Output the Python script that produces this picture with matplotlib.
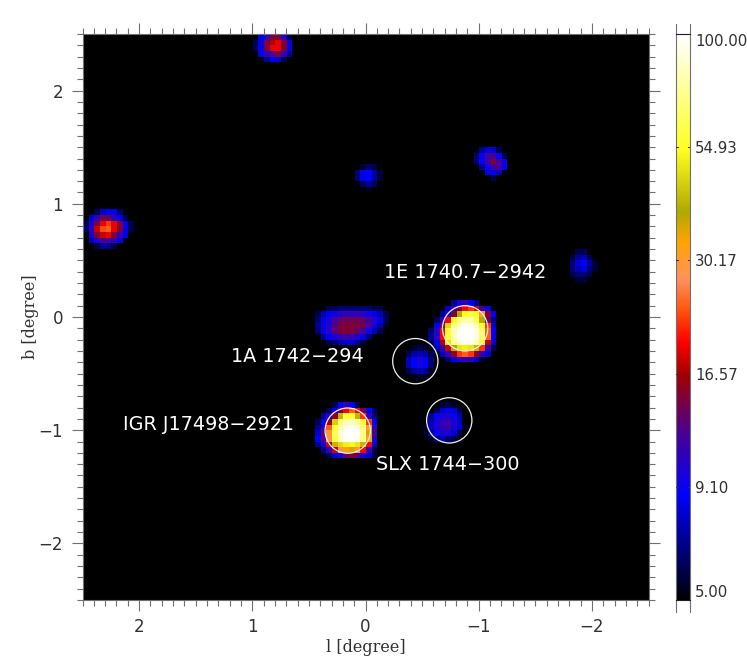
import matplotlib
matplotlib.use('Agg')
import matplotlib.pyplot as plt
from matplotlib.colors import LinearSegmentedColormap, LogNorm
from matplotlib.patches import Circle
from matplotlib.ticker import FixedLocator, NullLocator
import numpy as np

# map is 100x100 cells of 0.05 deg, each source is a list of (row, first col, values)
src_top = [
    (0, 31, [8.5, 11, 15, 15, 10, 6]),
    (1, 30, [6, 8.5, 15, 17, 19, 15, 8.5]),
    (2, 30, [6, 8.5, 15, 19, 19, 15, 8.5]),
    (3, 31, [8.5, 11, 12, 15, 11, 7]),
    (4, 32, [7, 8.5, 8, 6]),
]
src_left = [
    (31, 2, [6, 8, 8.5, 8.5, 6.5]),
    (32, 1, [8, 11, 14, 14, 11, 8.5, 6]),
    (33, 0, [6, 10, 15, 19, 22, 19, 15, 8.5, 6]),
    (34, 0, [6.5, 11, 18, 23, 24, 19, 15, 8.5, 6]),
    (35, 1, [10, 15, 18, 19, 15, 11, 8.5]),
    (36, 1, [7.5, 10, 12, 12, 11, 8.5]),
    (37, 2, [6, 7, 7, 6]),
]
src_ne = [
    (20, 70, [7, 8, 8, 6]),
    (21, 69, [6.5, 9, 12, 12, 9, 6]),
    (22, 69, [6.5, 9, 12, 15, 12, 9]),
    (23, 70, [7, 9.5, 12, 12, 9]),
    (24, 71, [8.5, 8.5, 7.5]),
    (25, 72, [6]),
]
src_right = [
    (38, 87, [6, 6]),
    (39, 86, [5.7, 7, 7.5, 6]),
    (40, 86, [6.5, 8, 8.8, 7, 5.7]),
    (41, 86, [6.5, 7.5, 8, 6.5, 5.7]),
    (42, 86, [6, 6.5, 6.5, 6]),
    (43, 87, [5.7, 5.7]),
]
src_mid = [
    (23, 49, [5.7, 6.5, 6]),
    (24, 48, [6.5, 8.6, 8.8, 7, 5.8]),
    (25, 48, [6.5, 8.6, 8.8, 7, 5.8]),
    (26, 49, [6.2, 6.8, 6.2]),
    (27, 50, [5.4]),
]
src_gc = [
    (48, 43, [6, 6, 6.5, 6.5, 6.5, 6.5, 6.5, 6.5, 6, 6]),
    (49, 41, [6, 7.5, 8.5, 9.5, 10.5, 11, 11, 11, 10.5, 9.5, 8.5, 7.5, 6]),
    (50, 41, [6.5, 8.5, 10, 12, 13.5, 14, 14, 14, 13.5, 12, 10.5, 8.5, 6]),
    (51, 41, [7, 8.5, 10.5, 13, 14.5, 15, 15, 14.5, 14, 12, 9.5, 7.5, 5.5]),
    (52, 41, [6.5, 8.5, 10.5, 13, 14.5, 15, 14.5, 13.5, 12, 9.5, 7.5, 6]),
    (53, 42, [7, 8.5, 10, 11, 11.5, 11, 10, 8.5, 6.5]),
    (54, 43, [6, 6.5, 7.5, 8, 8, 7, 5.7]),
]
src_1e = [
    (47, 65, [7, 10, 11, 9, 7]),
    (48, 64, [8, 11, 15, 20, 22, 18, 12, 9]),
    (49, 63, [7, 10, 15, 40, 55, 60, 55, 30, 15, 9]),
    (50, 62, [6, 10, 20, 55, 72, 80, 78, 62, 40, 14, 7]),
    (51, 62, [9, 15, 48, 72, 88, 96, 94, 82, 56, 22, 8]),
    (52, 61, [6.5, 10.5, 20, 58, 82, 98, 100, 100, 92, 68, 24, 9]),
    (53, 61, [7, 10.5, 20, 58, 82, 98, 100, 100, 92, 68, 24, 9]),
    (54, 61, [6, 9, 17, 50, 74, 90, 98, 96, 84, 55, 18, 8]),
    (55, 62, [7.5, 11, 18, 40, 50, 52, 50, 42, 22, 11, 6]),
    (56, 62, [5.5, 7.5, 11, 16, 22, 24, 22, 16, 11, 8]),
    (57, 64, [6.5, 8.5, 10.5, 11, 10.5, 8, 5.7]),
]
src_1a = [
    (55, 58, [5.5, 6, 5.5]),
    (56, 57, [6, 7.2, 7.5, 7.2, 6]),
    (57, 57, [7.5, 8.8, 10, 8.8, 6.5]),
    (58, 57, [7.5, 8.8, 9.8, 8.8, 6.5]),
    (59, 57, [6, 7, 7.5, 7, 5.5]),
    (60, 58, [5.3, 5.5, 5.5]),
]
src_slx = [
    (65, 63, [5.5, 6, 5.5]),
    (66, 62, [6, 8, 8.5, 8, 6]),
    (67, 61, [7, 8.8, 10, 10, 8.8, 7.5]),
    (68, 61, [7.5, 10, 11, 11.5, 10, 8]),
    (69, 60, [5.5, 8, 10, 11, 11.5, 10, 8, 5.5]),
    (70, 60, [5.5, 7, 8.8, 10, 10, 8, 6]),
    (71, 61, [5.5, 6.5, 7.5, 6.5, 6]),
]
src_igr = [
    (65, 44, [6, 9, 11, 9, 6]),
    (66, 43, [6, 9, 14, 20, 24, 20, 14, 9, 6]),
    (67, 42, [7, 10, 16, 42, 58, 58, 42, 22, 11, 7]),
    (68, 41, [6, 9, 16, 46, 68, 80, 84, 76, 58, 22, 9]),
    (69, 41, [7, 11, 24, 58, 80, 94, 100, 90, 70, 30, 11]),
    (70, 41, [8, 13, 30, 62, 88, 100, 100, 98, 74, 36, 12]),
    (71, 41, [9, 13, 28, 60, 84, 96, 100, 94, 72, 32, 10]),
    (72, 41, [7, 10, 18, 42, 48, 52, 54, 50, 42, 20, 8]),
    (73, 42, [7, 11, 18, 28, 34, 36, 30, 20, 11, 6]),
    (74, 43, [6, 8, 10, 13, 15, 13, 10, 8, 5.7]),
]
sources = [src_top, src_left, src_ne, src_right, src_mid, src_gc, src_1e, src_1a, src_slx, src_igr]

circle_l = [-0.88, -0.44, -0.74, 0.157]
circle_b = [-0.10, -0.39, -0.913, -1.004]
circle_r = 0.2

label_names = ['1E 1740.7\u22122942', '1A 1742\u2212294', 'IGR J17498\u22122921', 'SLX 1744\u2212300']
label_l = [-0.879, 0.605, 1.39, -0.729]
label_b = [0.397, -0.353, -0.954, -1.307]

cbar_ticks = [5.00, 9.10, 16.57, 30.17, 54.93, 100.00]

cmap_stops = [
    (0.0, '#000000'), (0.19, '#0000ff'), (0.30, '#4a0090'), (0.40, '#a00000'),
    (0.46, '#ff0000'), (0.52, '#ff5a10'), (0.57, '#ff9060'), (0.635, '#ffa500'),
    (0.69, '#b0a800'), (0.80, '#ffff20'), (1.0, '#ffffff'),
]
idl = LinearSegmentedColormap.from_list('idl', cmap_stops, N=512)
GREY = '#707070'
TXT = '#303030'

img = np.full((100, 100), 1.0)
for src in sources:
    for row, col, vals in src:
        img[row, col:col + len(vals)] = vals

fig = plt.figure(figsize=(7.47, 6.60), dpi=100)
ax = fig.add_axes([82.5 / 747, 60 / 660, 566 / 747, 566 / 660])
im = ax.imshow(img, cmap=idl, norm=LogNorm(5, 100), extent=(2.5, -2.5, -2.5, 2.5),
               interpolation='nearest', aspect='auto')

for l, b in zip(circle_l, circle_b):
    ax.add_patch(Circle((l, b), circle_r, fill=False, ec='#f0f0f0', lw=0.9))
for name, l, b in zip(label_names, label_l, label_b):
    ax.text(l, b, name, color='white', fontsize=13.8, ha='center', va='center')

ax.set_xticks([2, 1, 0, -1, -2])
ax.set_yticks([-2, -1, 0, 1, 2])
ax.xaxis.set_minor_locator(FixedLocator(np.arange(-25, 26) / 10))
ax.yaxis.set_minor_locator(FixedLocator(np.arange(-25, 26) / 10))
ax.tick_params(which='major', length=8, width=0.8, color=GREY, top=True, right=True,
               labelsize=12, labelcolor=TXT, pad=6)
ax.tick_params(which='minor', length=4, width=0.8, color=GREY, top=True, right=True)
ax.tick_params(axis='x', which='major', pad=5)
for s in ax.spines.values():
    s.set_color(GREY)
    s.set_linewidth(0.8)
ax.set_xlabel('l [degree]', family='DejaVu Serif', fontsize=11.5, color=TXT)
ax.set_ylabel('b [degree]', family='DejaVu Serif', fontsize=11.5, color=TXT)
ax.xaxis.set_label_coords(0.5, -47 / 566, transform=ax.transAxes)
ax.yaxis.set_label_coords(-52 / 566, 0.5, transform=ax.transAxes)
ax.xaxis.label.set_va('center')
ax.yaxis.label.set_va('center')

cax = fig.add_axes([676 / 747, 60 / 660, 14 / 747, 566 / 660])
cb = fig.colorbar(im, cax=cax)
cb.solids.set_edgecolor('face')
cax.yaxis.set_major_locator(FixedLocator(cbar_ticks))
cax.yaxis.set_minor_locator(NullLocator())
cax.set_yticklabels(['%.2f' % t for t in cbar_ticks])
cax.tick_params(length=0, labelsize=10.8, labelcolor=TXT, pad=3.5)
labels = cax.get_yticklabels()
labels[0].set_va('bottom')
labels[-1].set_va('top')
for s in cax.spines.values():
    s.set_visible(False)
for x in (0, 1):
    cax.plot([x, x], [-0.021, 1.018], transform=cax.transAxes, color=GREY, lw=0.8, clip_on=False)
for y in (0, 1):
    cax.plot([0, 1], [y, y], transform=cax.transAxes, color='#202020', lw=0.8, clip_on=False)
for t in cbar_ticks[1:-1]:
    cax.plot([0, 0.12], [t, t], transform=cax.get_yaxis_transform(), color='#303030', lw=0.7)
    cax.plot([0.88, 1], [t, t], transform=cax.get_yaxis_transform(), color='#303030', lw=0.7)

fig.savefig('out.png', dpi=100)
